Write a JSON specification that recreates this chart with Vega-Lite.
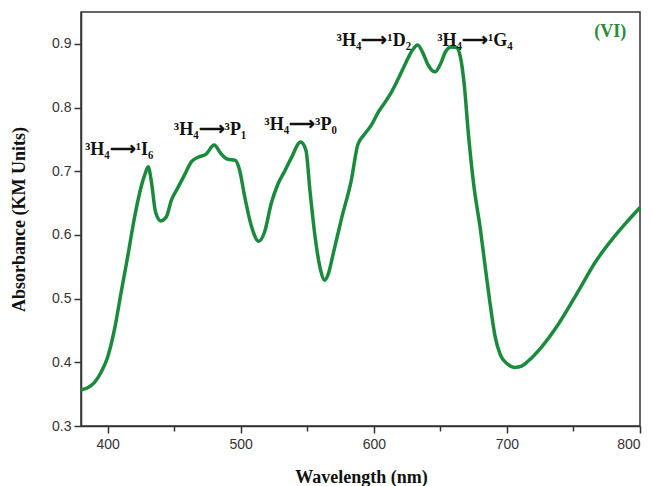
{
  "$schema": "https://vega.github.io/schema/vega-lite/v6.json",
  "width": 559,
  "height": 414,
  "autosize": "none",
  "padding": {"left": 81, "top": 12, "right": 12, "bottom": 60},
  "background": "white",
  "config": {
    "view": {"stroke": "#333333", "strokeWidth": 1.5},
    "axis": {"grid": false, "domainColor": "#333333", "domainWidth": 1.5, "tickColor": "#333333", "tickWidth": 1.5, "labelFont": "Liberation Sans", "labelFontSize": 14, "labelColor": "#333333", "titleFont": "Liberation Serif", "titleFontWeight": "bold", "titleFontSize": 18, "titleColor": "#111111"}
  },
  "datasets": {
    "spectrum": [
      {"nm": 380, "abs": 0.357}, {"nm": 385, "abs": 0.360}, {"nm": 390, "abs": 0.368}, {"nm": 395, "abs": 0.384},
      {"nm": 400, "abs": 0.408}, {"nm": 405, "abs": 0.450}, {"nm": 410, "abs": 0.508}, {"nm": 415, "abs": 0.565},
      {"nm": 420, "abs": 0.625}, {"nm": 425, "abs": 0.674}, {"nm": 428, "abs": 0.695}, {"nm": 430.5, "abs": 0.707},
      {"nm": 433, "abs": 0.682}, {"nm": 436, "abs": 0.636}, {"nm": 440, "abs": 0.622}, {"nm": 444, "abs": 0.628},
      {"nm": 448, "abs": 0.655}, {"nm": 453, "abs": 0.675}, {"nm": 458, "abs": 0.695}, {"nm": 463, "abs": 0.715},
      {"nm": 468, "abs": 0.722}, {"nm": 474, "abs": 0.727}, {"nm": 480, "abs": 0.741}, {"nm": 485, "abs": 0.728},
      {"nm": 490, "abs": 0.719}, {"nm": 496, "abs": 0.717}, {"nm": 499, "abs": 0.703}, {"nm": 503, "abs": 0.660},
      {"nm": 508, "abs": 0.614}, {"nm": 513.5, "abs": 0.590}, {"nm": 518, "abs": 0.605}, {"nm": 523, "abs": 0.650},
      {"nm": 528, "abs": 0.680}, {"nm": 533, "abs": 0.700}, {"nm": 538, "abs": 0.721}, {"nm": 545, "abs": 0.746},
      {"nm": 549, "abs": 0.733}, {"nm": 552, "abs": 0.670}, {"nm": 556, "abs": 0.595}, {"nm": 560, "abs": 0.545},
      {"nm": 563, "abs": 0.529}, {"nm": 566, "abs": 0.540}, {"nm": 569, "abs": 0.566}, {"nm": 576, "abs": 0.628},
      {"nm": 583, "abs": 0.685}, {"nm": 588, "abs": 0.742}, {"nm": 593, "abs": 0.758}, {"nm": 598, "abs": 0.772},
      {"nm": 604, "abs": 0.795}, {"nm": 609, "abs": 0.810}, {"nm": 614, "abs": 0.827}, {"nm": 619, "abs": 0.848},
      {"nm": 624, "abs": 0.870}, {"nm": 629, "abs": 0.890}, {"nm": 633, "abs": 0.898}, {"nm": 637, "abs": 0.885},
      {"nm": 641, "abs": 0.866}, {"nm": 646, "abs": 0.856}, {"nm": 650, "abs": 0.868}, {"nm": 654, "abs": 0.888},
      {"nm": 658, "abs": 0.895}, {"nm": 662, "abs": 0.894}, {"nm": 665, "abs": 0.880}, {"nm": 668, "abs": 0.835},
      {"nm": 671, "abs": 0.760}, {"nm": 675, "abs": 0.680}, {"nm": 680, "abs": 0.610}, {"nm": 684, "abs": 0.545},
      {"nm": 687.5, "abs": 0.490}, {"nm": 691, "abs": 0.442}, {"nm": 695, "abs": 0.412}, {"nm": 700, "abs": 0.398},
      {"nm": 706, "abs": 0.392}, {"nm": 711, "abs": 0.394}, {"nm": 716, "abs": 0.402}, {"nm": 726, "abs": 0.424},
      {"nm": 739, "abs": 0.461}, {"nm": 754, "abs": 0.513}, {"nm": 766, "abs": 0.556}, {"nm": 781, "abs": 0.598},
      {"nm": 790, "abs": 0.620}, {"nm": 800, "abs": 0.643}
    ],
    "labels": [
      {"nm": 408.7, "abs": 0.733, "text": "³H₄⟶¹I₆", "color": "black"},
      {"nm": 477, "abs": 0.764, "text": "³H₄⟶³P₁", "color": "black"},
      {"nm": 545, "abs": 0.772, "text": "³H₄⟶³P₀", "color": "black"},
      {"nm": 600, "abs": 0.905, "text": "³H₄⟶¹D₂", "color": "black"},
      {"nm": 676, "abs": 0.905, "text": "³H₄⟶¹G₄", "color": "black"},
      {"nm": 777.7, "abs": 0.918, "text": "(VI)", "color": "green"}
    ]
  },
  "layer": [
    {
      "data": {"name": "spectrum"},
      "mark": {"type": "line", "color": "#1a8a3c", "strokeWidth": 3.5, "interpolate": "monotone"},
      "encoding": {
        "x": {"field": "nm", "type": "quantitative", "scale": {"domain": [380, 800], "nice": false, "zero": false},
          "axis": {"title": "Wavelength (nm)", "values": [400, 450, 500, 550, 600, 650, 700, 750, 800],
            "labelExpr": "datum.value % 100 == 0 ? datum.label : ''",
            "tickSize": {"condition": {"test": "datum.value % 100 != 0", "value": 5}, "value": 7},
            "labelPadding": 4, "titleX": 280, "titleY": 56, "titleBaseline": "alphabetic"}},
        "y": {"field": "abs", "type": "quantitative", "scale": {"domain": [0.3, 0.95], "nice": false, "zero": false},
          "axis": {"title": "Absorbance (KM Units)", "values": [0.3, 0.35, 0.4, 0.45, 0.5, 0.55, 0.6, 0.65, 0.7, 0.75, 0.8, 0.85, 0.9],
            "labelExpr": "abs(datum.value*10 - round(datum.value*10)) < 0.01 ? format(datum.value, '.1f') : ''",
            "tickSize": {"condition": {"test": "abs(datum.value*10 - round(datum.value*10)) > 0.01", "value": 5}, "value": 7},
            "labelPadding": 3, "titleX": -53, "titleY": 207}}
      }
    },
    {
      "data": {"name": "labels"},
      "mark": {"type": "text", "font": "Liberation Serif", "fontWeight": "bold", "fontSize": 18, "baseline": "middle", "align": "center"},
      "encoding": {
        "x": {"field": "nm", "type": "quantitative"},
        "y": {"field": "abs", "type": "quantitative"},
        "text": {"field": "text"},
        "color": {"field": "color", "type": "nominal", "scale": {"domain": ["black", "green"], "range": ["#111111", "#2e8b3a"]}, "legend": null}
      }
    }
  ]
}
